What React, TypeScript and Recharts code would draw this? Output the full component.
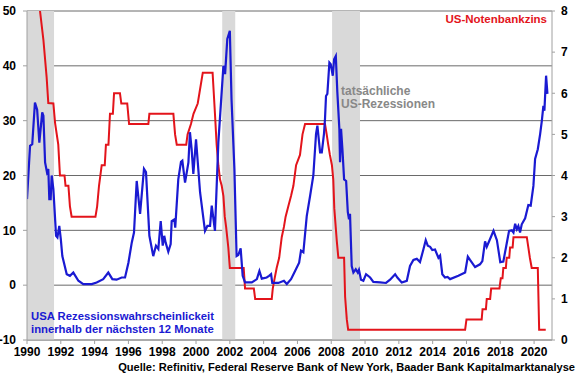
import {
  ComposedChart,
  Line,
  XAxis,
  YAxis,
  CartesianGrid,
  ReferenceArea,
} from "recharts";

// Rezessionswahrscheinlichkeit (linke Achse, %)
const probYears = [
  1990.0, 1990.18, 1990.31, 1990.47, 1990.6, 1990.73, 1990.9, 1990.97, 1991.07, 1991.18,
  1991.26, 1991.32, 1991.4, 1991.46, 1991.56, 1991.72, 1991.8, 1991.91, 1992.0, 1992.09,
  1992.35, 1992.54, 1992.74, 1993.04, 1993.33, 1993.83, 1994.12, 1994.51, 1994.81, 1995.05,
  1995.3, 1995.6, 1995.8, 1996.0, 1996.2, 1996.33, 1996.49, 1996.69, 1996.92, 1997.04,
  1997.24, 1997.47, 1997.63, 1997.77, 1997.91, 1998.03, 1998.12, 1998.2, 1998.36, 1998.5,
  1998.56, 1998.72, 1998.77, 1998.95, 1999.11, 1999.19, 1999.35, 1999.55, 1999.64, 1999.74,
  1999.84, 2000.0, 2000.24, 2000.53, 2000.67, 2000.83, 2000.93, 2001.12, 2001.32, 2001.62,
  2001.72, 2001.85, 2002.0, 2002.1, 2002.27, 2002.4, 2002.5, 2002.64, 2002.76, 2002.9,
  2003.3, 2003.6, 2003.75, 2003.89, 2004.18, 2004.32, 2004.44, 2004.51, 2004.87, 2005.2,
  2005.37, 2005.62, 2005.86, 2006.1, 2006.21, 2006.35, 2006.55, 2006.75, 2006.94, 2007.1,
  2007.18, 2007.34, 2007.44, 2007.57, 2007.63, 2007.69, 2007.77, 2007.89, 2007.97, 2008.09,
  2008.17, 2008.27, 2008.36, 2008.48, 2008.52, 2008.58, 2008.66, 2008.76, 2008.88, 2008.98,
  2009.05, 2009.11, 2009.21, 2009.31, 2009.45, 2009.57, 2009.64, 2009.76, 2009.9, 2010.06,
  2010.3, 2010.49, 2010.89, 2011.24, 2011.48, 2011.78, 2011.91, 2012.17, 2012.47, 2012.66,
  2012.86, 2013.06, 2013.25, 2013.45, 2013.59, 2013.71, 2013.85, 2013.98, 2014.14, 2014.34,
  2014.44, 2014.57, 2014.73, 2014.88, 2015.03, 2015.52, 2015.92, 2016.08, 2016.21, 2016.51,
  2016.8, 2016.94, 2017.1, 2017.2, 2017.34, 2017.6, 2017.8, 2018.0, 2018.18, 2018.38,
  2018.52, 2018.68, 2018.78, 2018.88, 2018.98, 2019.07, 2019.17, 2019.27, 2019.47, 2019.66,
  2019.8, 2019.96, 2020.06, 2020.22, 2020.36, 2020.46, 2020.55, 2020.61, 2020.71, 2020.79,
];
const probValues = [
  15.7, 25.4, 25.7, 33.3, 32, 26, 31.5, 30.9, 22.4, 20.6,
  21.2, 15.7, 15.7, 20, 17.5, 9, 8.7, 10.8, 8.4, 5.3,
  2, 1.7, 2.3, 0.8, 0.2, 0.2, 0.5, 1.1, 2.3, 1.1,
  1.0, 1.4, 1.4, 4.1, 7.8, 9.6, 19, 13, 21.2, 20.6,
  9, 5.3, 7.2, 6.6, 11.7, 7.2, 9, 7.8, 6.1, 7.5,
  11.7, 12, 10.5, 19.3, 22.5, 22.7, 18.7, 22.4, 27.9, 24.8,
  20.3, 26.6, 16.9, 9.9, 10.8, 10.8, 14.5, 9.9, 26, 40,
  38.5, 44.9, 46.4, 33.9, 21.2, 5.3, 5.5, 6.7, 1.7, 0.5,
  0.5, 1.1, 2.6, 1.2, 1.4, 1.7, 2, 0.4, 0.4, 0.8,
  0.2, 1.1, 2.6, 4.1, 6.3, 6, 12.6, 16.3, 20, 27.6,
  29.1, 24.2, 24.2, 27.6, 30.3, 34.5, 34.9, 40.6, 40.3, 38.2,
  41.2, 41.8, 35.2, 28.5, 22.4, 28.5, 24.8, 19.3, 19, 13.3,
  12, 13, 3.5, 2.3, 2.9, 2.3, 2.8, 1.0, 0.8, 2,
  1.4, 0.6, 0.5, 0.4, 1.0, 2, 1.4, 0.5, 0.8, 3.5,
  4.6, 4.8, 4.2, 6.5, 8.2, 7.2, 7.0, 6.4, 6.5, 5.0,
  5.4, 2.0, 1.4, 1.5, 1.1, 1.7, 2.3, 5.2, 4.6, 3.3,
  3.8, 4.4, 8.0, 7.0, 8.0, 9.9, 8.2, 4.2, 4.3, 7.6,
  9.9, 10.0, 9.6, 11.2, 10.2, 10.8, 9.6, 11.1, 12.2, 14.6,
  14.5, 18.1, 23, 24.8, 27.6, 30, 32.7, 31.8, 38.2, 34.9,
];

// US-Notenbankzins (rechte Achse, %)
const rateYears = [
  1990.0, 1990.6, 1990.77, 1990.97, 1991.16, 1991.26, 1991.56, 1991.66, 1991.85, 1991.95,
  1992.22, 1992.28, 1992.45, 1992.54, 1992.64, 1994.05, 1994.15, 1994.26, 1994.42, 1994.6,
  1994.67, 1994.82, 1994.91, 1995.08, 1995.15, 1995.5, 1995.58, 1995.93, 1996.04, 1997.18,
  1997.24, 1998.66, 1998.76, 1998.86, 1999.42, 1999.5, 1999.7, 1999.85, 2000.1, 2000.2,
  2000.4, 2000.98, 2001.05, 2001.12, 2001.22, 2001.32, 2001.42, 2001.52, 2001.62, 2001.7,
  2001.78, 2001.91, 2002.0, 2002.82, 2002.9, 2003.42, 2003.5, 2004.48, 2004.54, 2004.65,
  2004.77, 2004.92, 2005.07, 2005.2, 2005.3, 2005.46, 2005.62, 2005.76, 2005.92, 2006.15,
  2006.3, 2006.45, 2007.63, 2007.73, 2007.82, 2007.92, 2008.04, 2008.12, 2008.18, 2008.33,
  2008.42, 2008.76, 2008.82, 2008.92, 2009.0, 2015.92, 2016.0, 2016.9, 2016.95, 2017.15,
  2017.2, 2017.4, 2017.46, 2017.95, 2018.03, 2018.13, 2018.18, 2018.33, 2018.38, 2018.53,
  2018.58, 2018.73, 2018.78, 2019.57, 2019.66, 2019.75, 2019.86, 2020.22, 2020.3, 2020.69,
];
const rateValues = [
  8.25, 8.25, 8.0, 7.3, 6.4, 5.76, 5.75, 5.28, 4.75, 4.0,
  4.0, 3.75, 3.75, 3.25, 3.0, 3.0, 3.25, 3.75, 4.25, 4.25,
  4.75, 4.75, 5.5, 5.5, 6.0, 6.0, 5.75, 5.75, 5.25, 5.25,
  5.5, 5.5, 5.0, 4.75, 4.75, 5.0, 5.25, 5.5, 5.75, 6.0,
  6.5, 6.5, 6.0, 5.5, 4.75, 4.25, 3.9, 3.75, 3.5, 3.0,
  2.75, 2.25, 1.75, 1.75, 1.25, 1.25, 1.0, 1.0, 1.25, 1.5,
  1.75, 2.0, 2.5, 2.75, 3.0, 3.25, 3.5, 3.75, 4.25, 4.5,
  5.0, 5.25, 5.25, 5.0, 4.75, 4.5, 4.25, 3.9, 3.2, 2.4,
  2.0, 2.0, 1.05, 0.5, 0.25, 0.25, 0.5, 0.5, 0.75, 0.75,
  1.0, 1.0, 1.25, 1.25, 1.5, 1.5, 1.75, 1.75, 2.0, 2.0,
  2.25, 2.25, 2.5, 2.5, 2.25, 2.0, 1.75, 1.75, 0.25, 0.25,
];

const recessions = [
  [1990.0, 1991.6],
  [2001.55, 2002.32],
  [2008.05, 2009.7],
];

const xTicks = [1990, 1992, 1994, 1996, 1998, 2000, 2002, 2004, 2006, 2008, 2010, 2012, 2014, 2016, 2018, 2020];
const leftTicks = [-10, 0, 10, 20, 30, 40, 50];
const rightTicks = [0, 1, 2, 3, 4, 5, 6, 7, 8];

const probData = probYears.map((t, i) => ({ t, v: probValues[i] }));
const rateData = rateYears.map((t, i) => ({ t, v: rateValues[i] }));

const font = "'Liberation Sans', Arial, sans-serif";
const tickStyle = { fontSize: 12, fontWeight: 700, fill: "#000", fontFamily: font };

export default function App() {
  return (
    <div style={{ position: "absolute", left: 0, top: 0, width: 580, height: 375, background: "#fff", fontFamily: font }}>
      <ComposedChart width={580} height={375} margin={{ top: 11, right: 0, left: 0, bottom: 0 }}>
        {recessions.map(([a, b], i) => (
          <ReferenceArea key={i} x1={a} x2={b} yAxisId="left" fill="#d9d9d9" fillOpacity={1} stroke="none" ifOverflow="hidden" />
        ))}
        <CartesianGrid yAxisId="left" vertical={false} stroke="#6a6a6a" strokeWidth={1} />
        <XAxis
          dataKey="t"
          type="number"
          domain={[1990, 2021.06]}
          ticks={xTicks}
          interval={0}
          allowDataOverflow
          height={35}
          tick={tickStyle}
          tickSize={4}
          tickMargin={3}
          stroke="#a0a0a0"
        />
        <YAxis
          yAxisId="left"
          domain={[-10, 50]}
          ticks={leftTicks}
          interval={0}
          width={27}
          tick={tickStyle}
          tickSize={4}
          tickMargin={7}
          stroke="#a0a0a0"
        />
        <YAxis
          yAxisId="right"
          orientation="right"
          domain={[0, 8]}
          ticks={rightTicks}
          interval={0}
          allowDataOverflow
          width={28}
          tick={tickStyle}
          tickSize={3}
          tickMargin={6}
          stroke="#a0a0a0"
        />
        <Line
          yAxisId="right"
          data={rateData}
          dataKey="v"
          type="linear"
          stroke="#e3141b"
          strokeWidth={2}
          dot={false}
          isAnimationActive={false}
        />
        <Line
          yAxisId="left"
          data={probData}
          dataKey="v"
          type="linear"
          stroke="#1a1ad2"
          strokeWidth={2.2}
          dot={false}
          isAnimationActive={false}
        />
      </ComposedChart>

      <div style={{ position: "absolute", right: 33, top: 13, color: "#e3141b", fontSize: 11.5, fontWeight: 700 }}>
        US-Notenbankzins
      </div>
      <div style={{ position: "absolute", left: 341, top: 85, color: "#888", fontSize: 12, lineHeight: "13px", fontWeight: 700 }}>
        tatsächliche
        <br />
        US-Rezessionen
      </div>
      <div style={{ position: "absolute", left: 31, top: 310, color: "#1a1ad2", fontSize: 11.3, lineHeight: "13px", fontWeight: 700 }}>
        USA Rezessionswahrscheinlickeit
        <br />
        innerhalb der nächsten 12 Monate
      </div>
      <div style={{ position: "absolute", right: 5, top: 361, color: "#000", fontSize: 11.1, fontWeight: 700, whiteSpace: "nowrap" }}>
        Quelle: Refinitiv, Federal Reserve Bank of New York, Baader Bank Kapitalmarktanalyse
      </div>
    </div>
  );
}
